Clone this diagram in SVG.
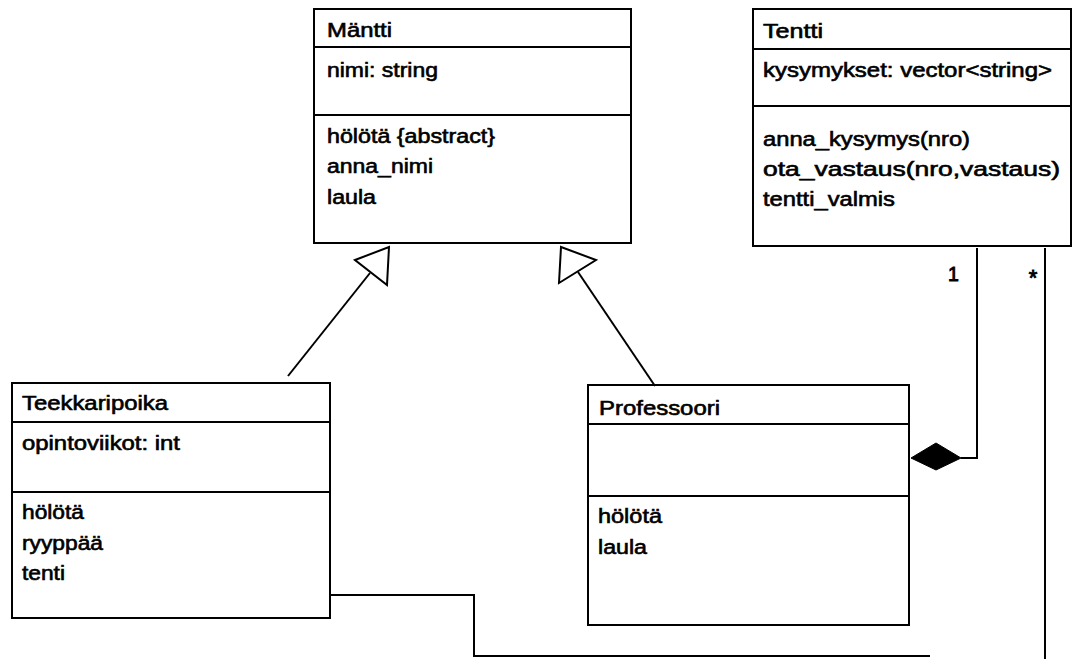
<svg xmlns="http://www.w3.org/2000/svg" width="1073" height="659" viewBox="0 0 1073 659">
<style>
.box{fill:none;stroke:#000;stroke-width:2}
.div{stroke:#000;stroke-width:2}
.t{font-family:"Liberation Sans",Arial,sans-serif;font-size:19.5px;fill:#000;stroke:#000;stroke-width:0.6}
.c{fill:none;stroke:#000;stroke-width:2}
.gen{fill:#fff;stroke:#000;stroke-width:2;stroke-linejoin:miter}
.dia{fill:#000;stroke:#000;stroke-width:1}
</style>
<rect width="1073" height="659" fill="#fff"/>
<g id="connectors">
<path class="c" d="M288,376 L370,273"/>
<polygon class="gen" points="355,260 389,247 387,285"/>
<path class="c" d="M655,386 L578,272"/>
<polygon class="gen" points="561,247 596,260 559,283"/>
<path class="c" d="M961,458 L977,458 L977,248"/>
<polygon class="dia" points="911,458 936,443 961,458 936,470"/>
<path class="c" d="M330,595 L474,595 L474,656 L930,656"/>
<path class="c" d="M1045,248 L1045,659"/>
<text class="t" x="948" y="281" style="stroke-width:0.9">1</text>
<text class="t" x="1033" y="285" text-anchor="middle" style="font-size:22px;stroke-width:0.9">*</text>
</g>
<g id="Mantti">
<rect class="box" x="314" y="9" width="317" height="234"/>
<line class="div" x1="314" y1="47" x2="631" y2="47"/>
<line class="div" x1="314" y1="115" x2="631" y2="115"/>
<text class="t" x="327" y="37" textLength="65" lengthAdjust="spacingAndGlyphs">Mäntti</text>
<text class="t" x="327" y="77" textLength="111" lengthAdjust="spacingAndGlyphs">nimi: string</text>
<text class="t" x="327" y="143" textLength="168" lengthAdjust="spacingAndGlyphs">hölötä {abstract}</text>
<text class="t" x="327" y="173" textLength="106" lengthAdjust="spacingAndGlyphs">anna_nimi</text>
<text class="t" x="327" y="204" textLength="49" lengthAdjust="spacingAndGlyphs">laula</text>
</g>
<g id="Tentti">
<rect class="box" x="753" y="9" width="318" height="237"/>
<line class="div" x1="753" y1="49" x2="1071" y2="49"/>
<line class="div" x1="753" y1="106" x2="1071" y2="106"/>
<text class="t" x="763" y="38" textLength="60" lengthAdjust="spacingAndGlyphs">Tentti</text>
<text class="t" x="763" y="77" textLength="289" lengthAdjust="spacingAndGlyphs">kysymykset: vector&lt;string&gt;</text>
<text class="t" x="763" y="146" textLength="207" lengthAdjust="spacingAndGlyphs">anna_kysymys(nro)</text>
<text class="t" x="763" y="176" textLength="297" lengthAdjust="spacingAndGlyphs">ota_vastaus(nro,vastaus)</text>
<text class="t" x="763" y="206" textLength="132" lengthAdjust="spacingAndGlyphs">tentti_valmis</text>
</g>
<g id="Teekkaripoika">
<rect class="box" x="12" y="383" width="318" height="235"/>
<line class="div" x1="12" y1="422" x2="330" y2="422"/>
<line class="div" x1="12" y1="492" x2="330" y2="492"/>
<text class="t" x="22" y="410" textLength="146" lengthAdjust="spacingAndGlyphs">Teekkaripoika</text>
<text class="t" x="22" y="450" textLength="158" lengthAdjust="spacingAndGlyphs">opintoviikot: int</text>
<text class="t" x="22" y="519" textLength="62" lengthAdjust="spacingAndGlyphs">hölötä</text>
<text class="t" x="22" y="550" textLength="81" lengthAdjust="spacingAndGlyphs">ryyppää</text>
<text class="t" x="22" y="580" textLength="43" lengthAdjust="spacingAndGlyphs">tenti</text>
</g>
<g id="Professoori">
<rect class="box" x="588" y="385" width="321" height="240"/>
<line class="div" x1="588" y1="424" x2="909" y2="424"/>
<line class="div" x1="588" y1="496" x2="909" y2="496"/>
<text class="t" x="599" y="415" textLength="121" lengthAdjust="spacingAndGlyphs">Professoori</text>
<text class="t" x="598" y="523" textLength="64" lengthAdjust="spacingAndGlyphs">hölötä</text>
<text class="t" x="598" y="554" textLength="49" lengthAdjust="spacingAndGlyphs">laula</text>
</g>
</svg>
